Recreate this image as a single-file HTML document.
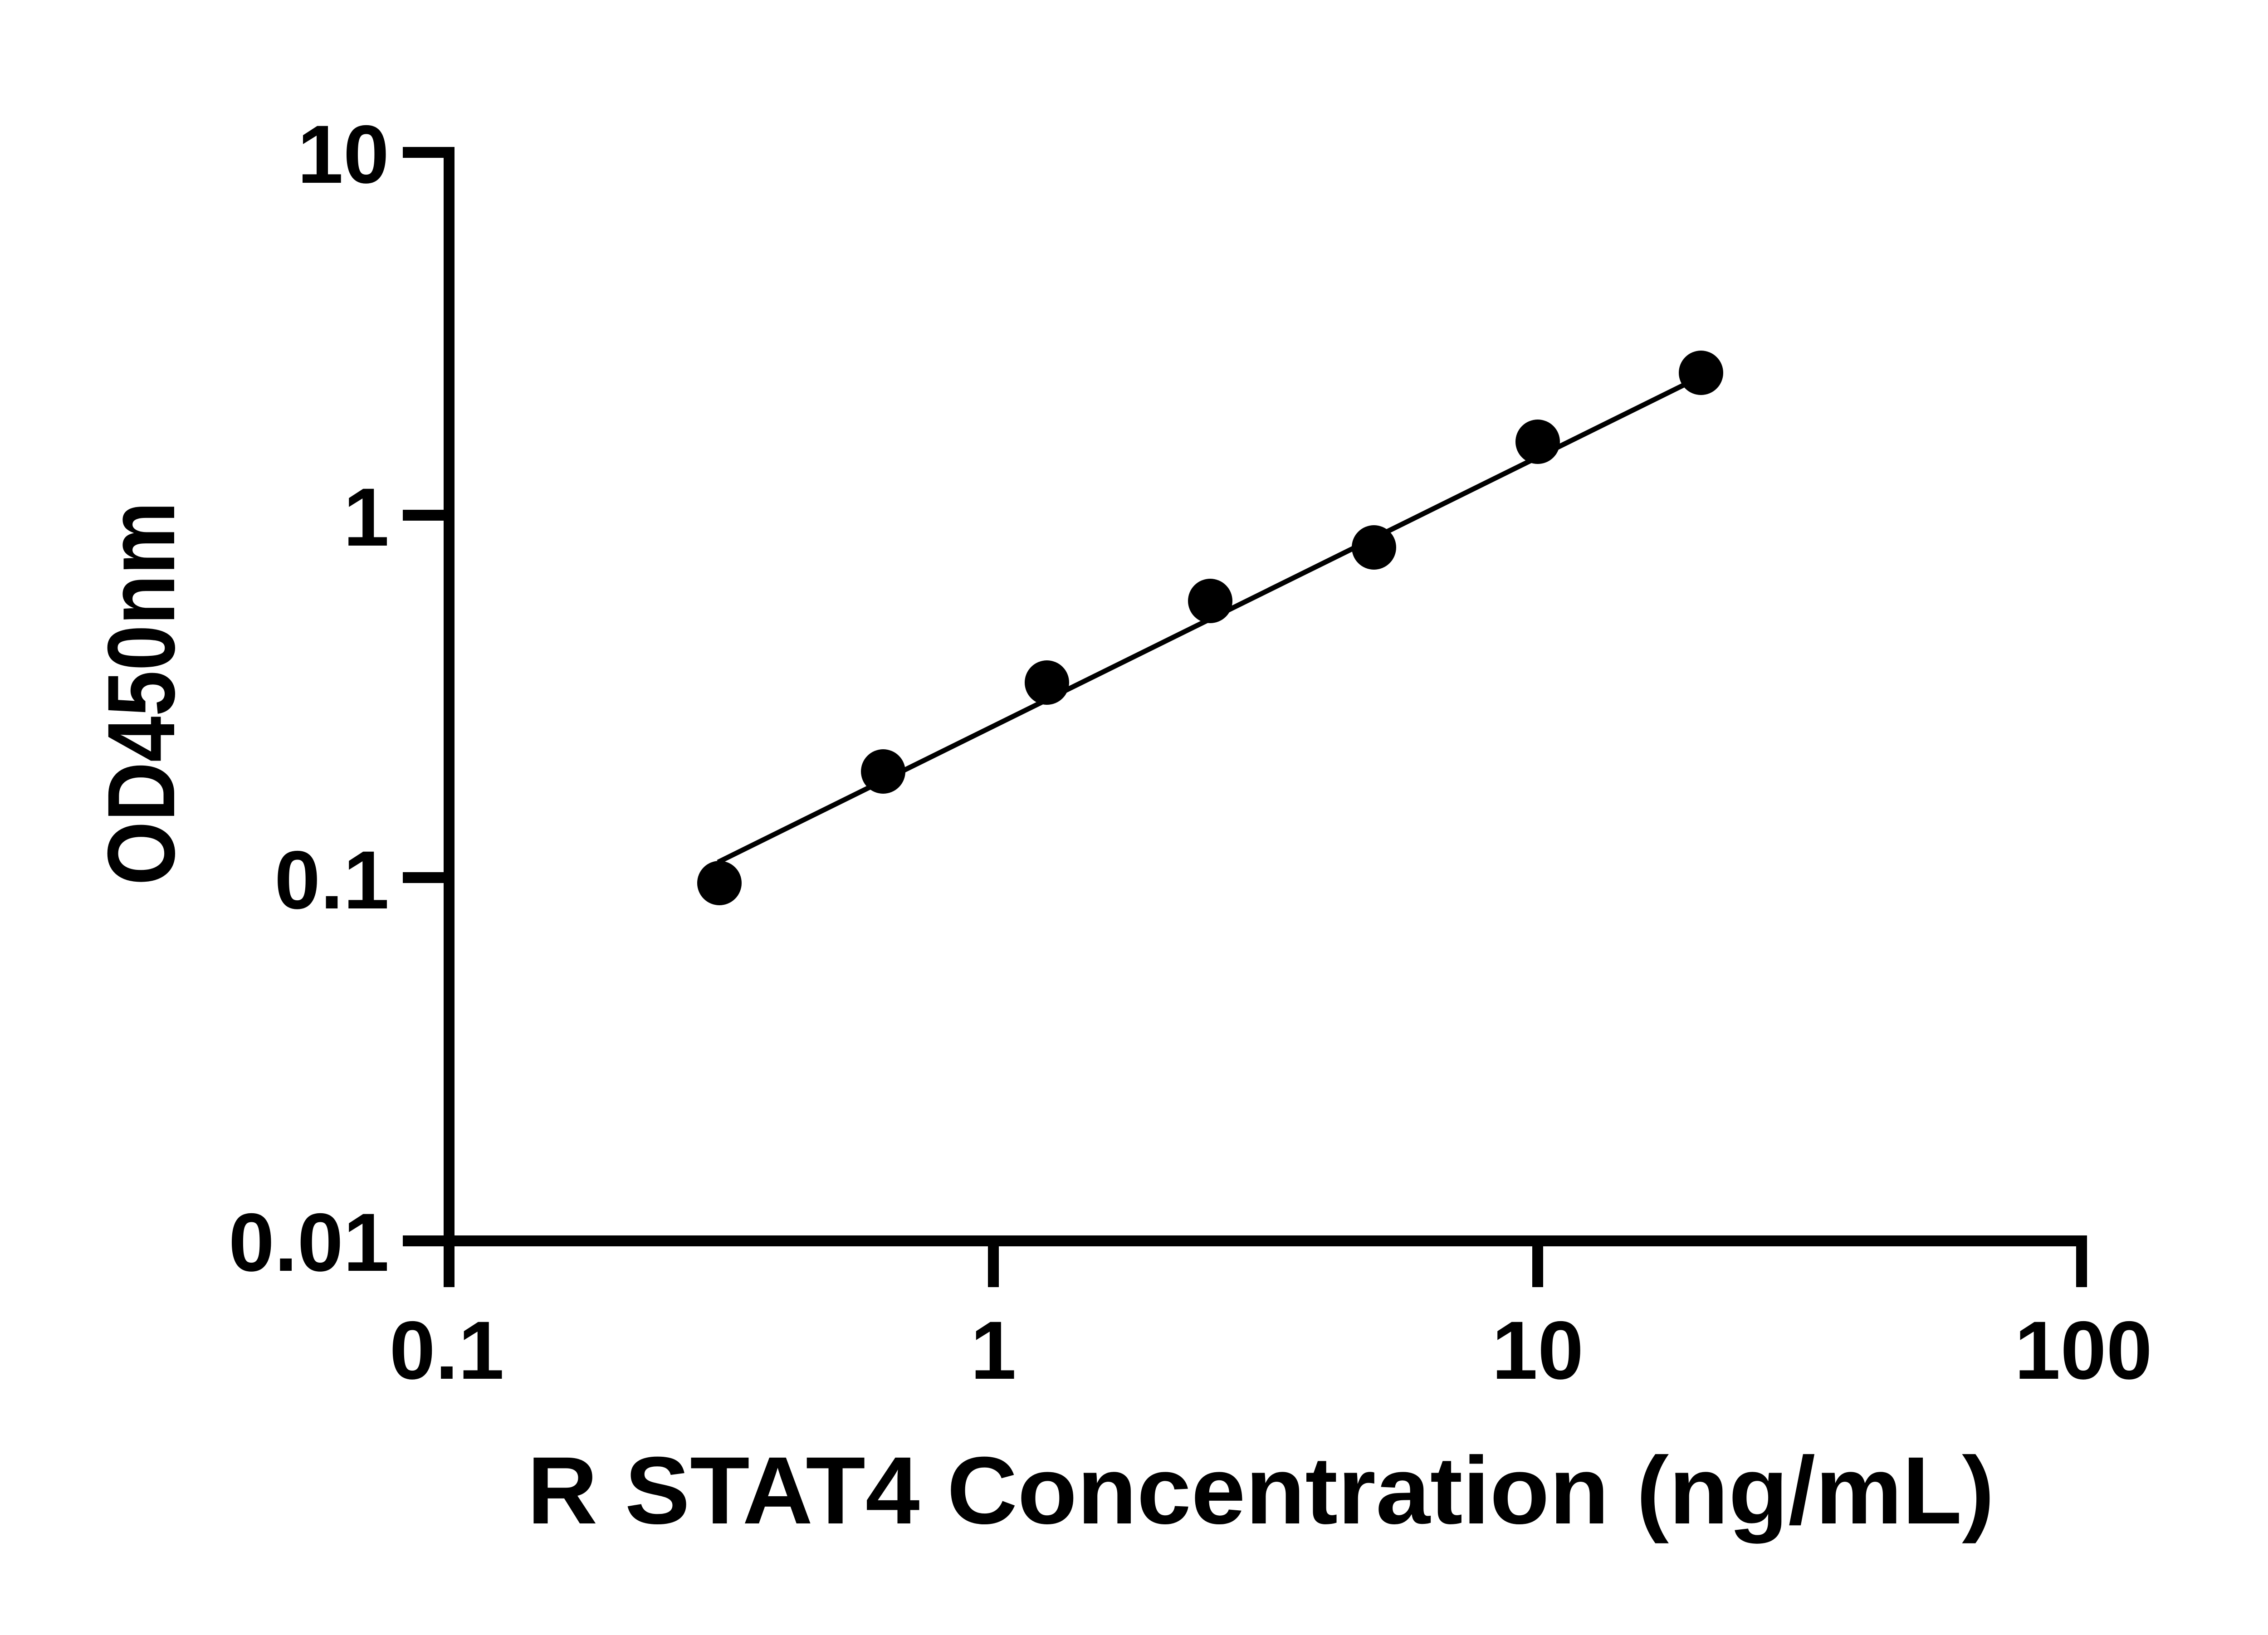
<!DOCTYPE html>
<html><head><style>html,body{margin:0;padding:0;background:#fff}</style></head>
<body>
<svg width="5142" height="3600" xmlns="http://www.w3.org/2000/svg" font-family="Liberation Sans, sans-serif" font-weight="bold">
<rect width="5142" height="3600" fill="#fff"/>
<g stroke="#000" stroke-width="24" fill="none">
<line x1="990" y1="324" x2="990" y2="2838"/>
<line x1="978" y1="2736" x2="4601" y2="2736"/>
<line x1="888" y1="336" x2="1002" y2="336"/>
<line x1="888" y1="1136" x2="990" y2="1136"/>
<line x1="888" y1="1935" x2="990" y2="1935"/>
<line x1="888" y1="2736" x2="990" y2="2736"/>
<line x1="2190" y1="2736" x2="2190" y2="2838"/>
<line x1="3390" y1="2736" x2="3390" y2="2838"/>
<line x1="4589" y1="2724" x2="4589" y2="2838"/>
</g>
<g font-size="182" text-anchor="end">
<text x="858" y="403">10</text>
<text x="858" y="1203">1</text>
<text x="858" y="2003">0.1</text>
<text x="858" y="2802">0.01</text>
</g>
<g font-size="182" text-anchor="middle">
<text x="985" y="3040">0.1</text>
<text x="2190" y="3040">1</text>
<text x="3390" y="3040">10</text>
<text x="4593" y="3040">100</text>
</g>
<text x="1162" y="3359" font-size="211" textLength="3235" lengthAdjust="spacingAndGlyphs">R STAT4 Concentration (ng/mL)</text>
<text transform="translate(384,1952) rotate(-90)" font-size="211" textLength="846" lengthAdjust="spacingAndGlyphs">OD450nm</text>
<line x1="1583" y1="1901" x2="3724" y2="843" stroke="#000" stroke-width="11"/>
<g fill="#000">
<circle cx="1586" cy="1947" r="49"/>
<circle cx="1947" cy="1701" r="49"/>
<circle cx="2308" cy="1505" r="49"/>
<circle cx="2668" cy="1325" r="49"/>
<circle cx="3029" cy="1207" r="49"/>
<circle cx="3390" cy="974" r="49"/>
<circle cx="3750" cy="822" r="49"/>
</g>
</svg>
</body></html>
